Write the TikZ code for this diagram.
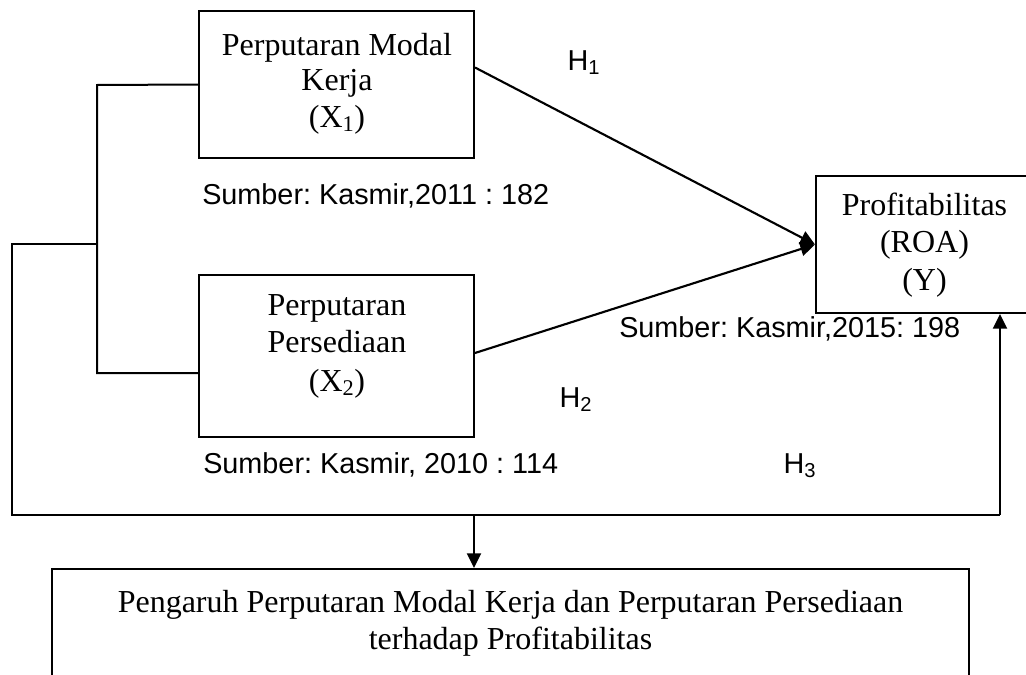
\documentclass[tikz,border=0pt]{standalone}
\usepackage{fontspec}
\setmainfont{Liberation Serif}
\setsansfont{Liberation Sans}
\usetikzlibrary{arrows.meta}
\frenchspacing
\tikzset{
  boxstyle/.style={draw, line width=1.5pt, rectangle, inner sep=0pt},
  serifline/.style={font=\fontsize{24}{28}\selectfont, inner sep=0pt, anchor=base},
  sanslbl/.style={font=\sffamily\fontsize{21.6}{26}\selectfont, inner sep=0pt, anchor=base west},
  hlbl/.style={font=\sffamily\fontsize{21.6}{26}\selectfont, inner sep=0pt, anchor=base},
  conn/.style={line width=1.5pt},
  arr/.style={line width=1.6pt, -{Triangle[length=11pt,width=10.5pt]}},
}
\begin{document}
\begin{tikzpicture}[x=0.75pt, y=-0.75pt]
\useasboundingbox (0,0) rectangle (1026,675);
\clip (0,0) rectangle (1026,675);
\fill[white] (0,0) rectangle (1026,675);

% boxes
\node[boxstyle, minimum width=206.25pt, minimum height=110.25pt] (x1) at (336.5,84.5) {};
\node[boxstyle, minimum width=206.25pt, minimum height=121.5pt] (x2) at (336.5,356) {};
\node[boxstyle, minimum width=162.75pt, minimum height=102.75pt] (y) at (924.5,244.5) {};
\node[boxstyle, minimum width=687.75pt, minimum height=113.25pt] (bot) at (510.5,644.5) {};

% box texts
\node[serifline] (x1a) at (337,55) {Perputaran Modal};
\node[serifline] (x1b) at (337,90) {Kerja};
\node[serifline] (x1c) at (337,127) {(X\textsubscript{1})};
\node[serifline] (x2a) at (337,315) {Perputaran};
\node[serifline] (x2b) at (337,352) {Persediaan};
\node[serifline] (x2c) at (337,391) {(X\textsubscript{2})};
\node[serifline] (ya) at (924.5,215) {Profitabilitas};
\node[serifline] (yb) at (924.5,252) {(ROA)};
\node[serifline] (yc) at (924.5,290) {(Y)};
\node[serifline] (bota) at (510.5,612) {Pengaruh Perputaran Modal Kerja dan Perputaran Persediaan};
\node[serifline] (botb) at (510.5,649) {terhadap Profitabilitas};

% source labels
\node[sanslbl] (s1) at (202,204) {Sumber: Kasmir,2011 : 182};
\node[sanslbl] (s2) at (203,473) {Sumber: Kasmir, 2010 : 114};
\node[sanslbl] (s3) at (619,337) {Sumber: Kasmir,2015: 198};

% hypothesis labels
\node[hlbl] (h1) at (584,70) {H\textsubscript{1}};
\node[hlbl] (h2) at (576,407) {H\textsubscript{2}};
\node[hlbl] (h3) at (800,473) {H\textsubscript{3}};

% connector coordinates
\coordinate (b1) at (97,85);
\coordinate (b2) at (97,373);
\coordinate (bm) at (97,244);
\coordinate (lc) at (12,515);
\coordinate (rc) at (1000,515);
\coordinate (dj) at (474,515);

% bracket and loop
\draw[conn] (x1.west) -- (b1) -- (b2) -- (x2.west |- b2);
\draw[conn] (bm) -| (lc) -- (rc);
\draw[arr] (rc) -- (rc |- y.south);
\draw[arr] (dj) -- (dj |- bot.north);

% hypothesis arrows
\draw[arr] ([yshift=12.75pt]x1.east) -- (y.west);
\draw[arr] ([yshift=2.25pt]x2.east) -- (y.west);
\end{tikzpicture}
\end{document}
